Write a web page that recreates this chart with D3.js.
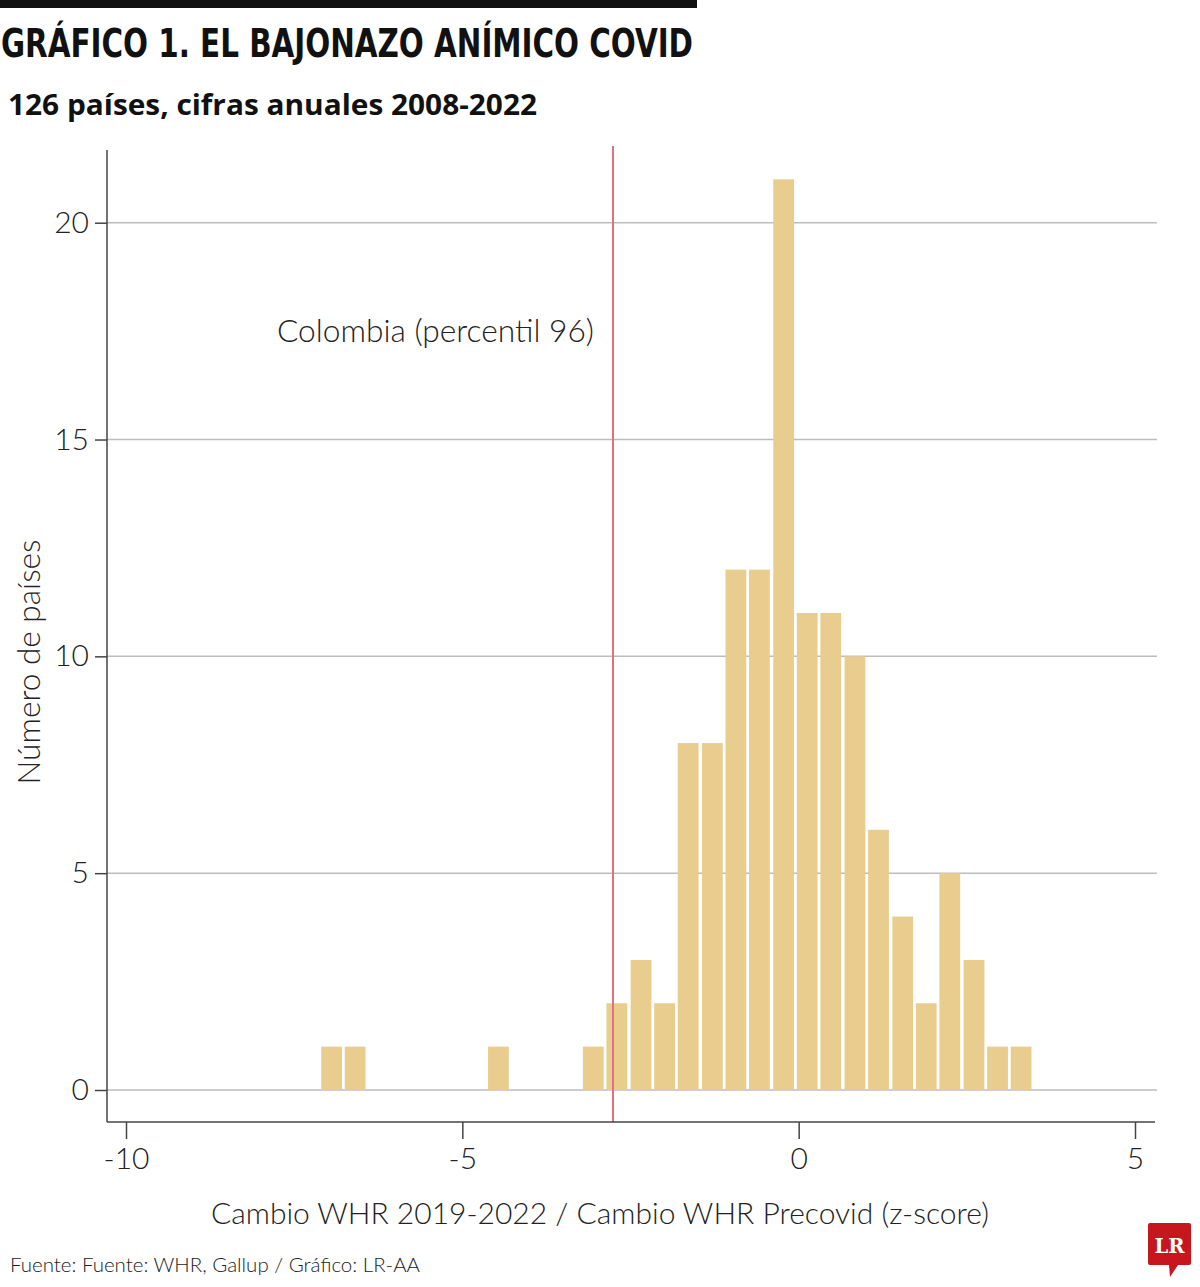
<!DOCTYPE html>
<html>
<head>
<meta charset="utf-8">
<script src="https://cdn.jsdelivr.net/npm/d3@7"></script>
<style>
  body { margin: 0; background: #fff; }
  svg { display: block; }
  .light { font-family: Lato, "Open Sans", sans-serif; font-weight: 300; fill: #222; }
</style>
</head>
<body>
<svg id="chart" width="1200" height="1287"></svg>
<script>
// bin left edges (z-score) and number of countries per bin
const binLo = [-7.12, -6.77, -4.64, -3.23, -2.88, -2.52, -2.17, -1.82, -1.46, -1.11, -0.76, -0.40,
  -0.05, 0.30, 0.66, 1.01, 1.37, 1.72, 2.07, 2.43, 2.78, 3.13];
const counts = [1, 1, 1, 1, 2, 3, 2, 8, 8, 12, 12, 21, 11, 11, 10, 6, 4, 2, 5, 3, 1, 1];
const binWidth = 0.3535;
const colombia = -2.76;
const xTicks = [-10, -5, 0, 5];
const yTicks = [0, 5, 10, 15, 20];

const svg = d3.select('#chart');

// header
svg.append('rect').attr('x', 0).attr('y', 0).attr('width', 697).attr('height', 8).attr('fill', '#111');
svg.append('text')
  .attr('x', 1).attr('y', 57)
  .attr('textLength', 692).attr('lengthAdjust', 'spacingAndGlyphs')
  .style('font-family', '"Liberation Sans Narrow", "DejaVu Sans Condensed", "Open Sans", sans-serif')
  .style('font-weight', 700).style('font-size', '39px').attr('fill', '#111')
  .text('GRÁFICO 1. EL BAJONAZO ANÍMICO COVID');
svg.append('text')
  .attr('x', 8).attr('y', 115)
  .attr('textLength', 529).attr('lengthAdjust', 'spacingAndGlyphs')
  .style('font-family', '"Open Sans", Lato, sans-serif')
  .style('font-weight', 700).style('font-size', '29px').attr('fill', '#111')
  .text('126 países, cifras anuales 2008-2022');

// scales
const x = d3.scaleLinear().domain([-10, 5]).range([126, 1135]);
const y = d3.scaleLinear().domain([0, 20]).range([1090, 222.7]);

const plotLeft = 107, plotRight = 1157, plotBottom = 1122, plotTop = 150;
const plain = d => String(d);   // keep hyphen-minus like the original

// gridlines
svg.append('g').selectAll('line').data(yTicks).join('line')
  .attr('x1', plotLeft).attr('x2', plotRight)
  .attr('y1', d => y(d)).attr('y2', d => y(d))
  .attr('stroke', '#bdbdbd').attr('stroke-width', 1.5);

// bars
svg.append('g').selectAll('rect').data(binLo).join('rect')
  .attr('x', d => x(d) + 1.5)
  .attr('width', d => x(d + binWidth) - x(d) - 3)
  .attr('y', (d, i) => y(counts[i]))
  .attr('height', (d, i) => y(0) - y(counts[i]))
  .attr('fill', '#e8cd8f');

// Colombia marker
svg.append('line')
  .attr('x1', x(colombia)).attr('x2', x(colombia))
  .attr('y1', 146).attr('y2', plotBottom)
  .attr('stroke', '#e46f7e').attr('stroke-width', 2);
svg.append('text').attr('class', 'light')
  .attr('x', 594).attr('y', 342).attr('text-anchor', 'end')
  .attr('textLength', 317).attr('lengthAdjust', 'spacingAndGlyphs')
  .style('font-size', '31px')
  .text('Colombia (percentil 96)');

// y axis
const yAxis = svg.append('g').attr('transform', `translate(${plotLeft},0)`)
  .call(d3.axisLeft(y).tickValues(yTicks).tickFormat(plain).tickSize(12).tickPadding(6));
yAxis.select('.domain').remove();
yAxis.append('line').attr('x1', 0).attr('x2', 0).attr('y1', plotTop).attr('y2', plotBottom)
  .attr('stroke', '#444').attr('stroke-width', 1.5);
yAxis.selectAll('.tick line').attr('stroke', '#444').attr('stroke-width', 1.5);
yAxis.selectAll('.tick text').attr('class', 'light').style('font-size', '30px').attr('fill', '#222');

// x axis
const xAxis = svg.append('g').attr('transform', `translate(0,${plotBottom})`)
  .call(d3.axisBottom(x).tickValues(xTicks).tickFormat(plain).tickSize(17).tickPadding(9));
xAxis.select('.domain').remove();
xAxis.append('line').attr('x1', plotLeft).attr('x2', 1155).attr('y1', 0).attr('y2', 0)
  .attr('stroke', '#444').attr('stroke-width', 1.5);
xAxis.selectAll('.tick line').attr('stroke', '#444').attr('stroke-width', 1.5);
xAxis.selectAll('.tick text').attr('class', 'light').style('font-size', '30px').attr('fill', '#222');

// axis titles
svg.append('text').attr('class', 'light')
  .attr('transform', 'translate(40,662) rotate(-90)')
  .attr('text-anchor', 'middle').style('font-size', '31px')
  .attr('textLength', 245).attr('lengthAdjust', 'spacingAndGlyphs')
  .text('Número de países');
svg.append('text').attr('class', 'light')
  .attr('x', 600).attr('y', 1224).attr('text-anchor', 'middle')
  .style('font-size', '30px')
  .text('Cambio WHR 2019-2022 / Cambio WHR Precovid (z-score)');

// source
svg.append('text').attr('class', 'light')
  .attr('x', 10).attr('y', 1272).style('font-size', '20.5px')
  .attr('textLength', 410).attr('lengthAdjust', 'spacingAndGlyphs')
  .text('Fuente: Fuente: WHR, Gallup / Gráfico: LR-AA');

// logo
const logo = svg.append('g');
logo.append('path')
  .attr('d', 'M1150,1223 H1189 Q1191,1223 1191,1225 V1263 Q1191,1265 1189,1265 H1178 L1170,1277 L1169,1265 H1150 Q1148,1265 1148,1263 V1225 Q1148,1223 1150,1223 Z')
  .attr('fill', '#c5171d');
logo.append('text')
  .attr('x', 1169.5).attr('y', 1253).attr('text-anchor', 'middle')
  .style('font-family', '"DejaVu Serif", "Liberation Serif", serif')
  .style('font-weight', 700).style('font-size', '21px').attr('fill', '#fff')
  .attr('textLength', 30).attr('lengthAdjust', 'spacingAndGlyphs')
  .text('LR');
</script>
</body>
</html>
